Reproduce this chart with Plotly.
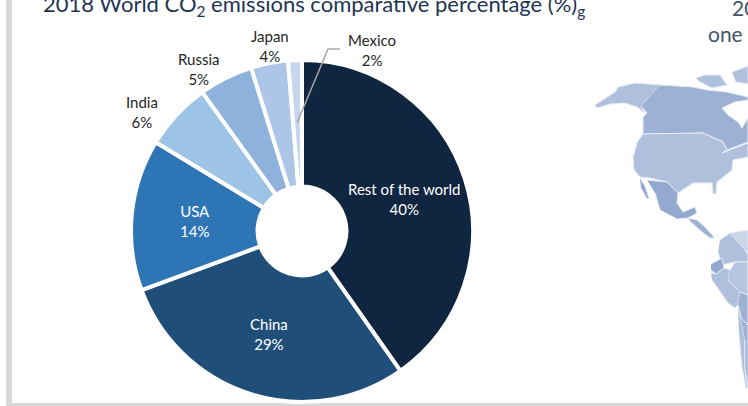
import plotly.graph_objects as go

labels = ["Rest of the world", "China", "USA", "India", "Russia", "Japan", "Mexico"]
shown_percent = [40, 29, 14, 6, 5, 4, 2]
values = [40.2, 29.1, 14.3, 6.4, 5.1, 3.5, 1.3]
colors = ["#10253F", "#1F4E79", "#2E75B6", "#9DC3E6", "#8FB2DD", "#ADC6E7", "#C5D6EE"]
label_x = [404, 269, 195, 142, 199, 270, 372]
label_y = [199, 334, 221, 112, 69, 46, 50]
label_colors = ["#FFFFFF", "#FFFFFF", "#FFFFFF", "#262626", "#262626", "#262626", "#262626"]

title_left = "2018 World CO<sub>2</sub> emissions comparative percentage (%)<sub>g</sub>"
side_lines = ["20", "one"]

leader_x = [297, 328, 340]
leader_y = [123, 49, 49]

map_regions = {
    "Alaska": ("#AFC0DC", [595, 603, 615, 618, 635, 660, 641, 645, 637, 625, 610, 597],
               [105, 100, 92, 87, 83, 85, 106, 113, 107, 103, 104, 108]),
    "Canada": ("#9DB1D4", [660, 693, 707, 727, 748, 748, 735, 722, 728, 738, 742, 748, 748, 727, 723, 703, 643, 643, 647, 641],
               [85, 87, 90, 92, 97, 100, 102, 108, 115, 122, 128, 118, 142, 150, 142, 133, 134, 117, 113, 106]),
    "Arctic": ("#AFC0DC", [696, 705, 720, 727, 712, 700], [78, 75, 75, 85, 88, 82]),
    "Arctic2": ("#AFC0DC", [732, 748, 748, 736], [72, 66, 84, 82]),
    "USA": ("#AFC0DC", [643, 703, 723, 727, 722, 748, 748, 733, 732, 717, 716, 713, 712, 693, 678, 667, 650, 640, 634, 633, 637],
            [134, 133, 142, 150, 153, 143, 157, 160, 170, 182, 194, 194, 183, 183, 193, 182, 178, 177, 170, 157, 143]),
    "Mexico": ("#93A9CF", [647, 667, 678, 677, 683, 695, 697, 688, 677, 660, 655], [180, 182, 193, 203, 212, 207, 213, 218, 219, 210, 193]),
    "Baja": ("#93A9CF", [640, 645, 649, 647, 641], [178, 186, 198, 199, 188]),
    "CentralAm": ("#9DB1D4", [688, 697, 705, 715, 710, 702, 692], [218, 220, 227, 238, 238, 232, 223]),
    "Colombia": ("#AFC0DC", [720, 730, 745, 748, 748, 735, 722, 718], [240, 233, 250, 250, 262, 262, 265, 252]),
    "Venezuela": ("#CAD5E8", [730, 748, 748, 745], [233, 230, 255, 250]),
    "Ecuador": ("#93A9CF", [711, 722, 724, 716, 711], [264, 258, 268, 274, 270]),
    "Peru": ("#AFC0DC", [711, 716, 724, 730, 728, 740, 738, 735, 728, 712], [273, 274, 268, 270, 280, 292, 305, 308, 303, 280]),
    "Brazil": ("#B5C5DF", [730, 735, 748, 748, 740, 728], [270, 262, 262, 295, 292, 280]),
    "Bolivia": ("#9DB1D4", [740, 748, 748, 741, 738], [292, 295, 325, 318, 305]),
    "Chile": ("#AFC0DC", [738, 741, 745, 745, 748, 746, 742, 739], [305, 318, 340, 370, 388, 388, 367, 335]),
    "Argentina": ("#9DB1D4", [741, 748, 748, 745, 745], [318, 325, 388, 370, 340]),
}

fig = go.Figure()

for region_name, (region_color, region_x, region_y) in map_regions.items():
    fig.add_trace(go.Scatter(
        x=region_x, y=region_y, mode="lines", fill="toself", fillcolor=region_color,
        line=dict(color="#E6ECF5", width=1), hoverinfo="skip", showlegend=False, name=region_name,
    ))

fig.add_trace(go.Pie(
    labels=labels, values=values, sort=False, direction="clockwise", rotation=0, hole=0.26,
    marker=dict(colors=colors, line=dict(color="#FFFFFF", width=4)),
    textinfo="none", showlegend=False,
    domain=dict(x=[131 / 748, 473 / 748], y=[1 - 402 / 406, 1 - 60 / 406]),
))

font_family = "Lato, Carlito, sans-serif"
annotations = [
    dict(x=lx, y=ly, text=f"{name}<br>{val}%", showarrow=False, xref="x", yref="y",
         font=dict(family=font_family, size=15, color=col), align="center", xanchor="center", yanchor="middle")
    for name, val, lx, ly, col in zip(labels, shown_percent, label_x, label_y, label_colors)
]
annotations.append(dict(x=41, y=22, text=title_left, showarrow=False, xref="x", yref="y", xanchor="left", yanchor="bottom",
                        font=dict(family=font_family, size=22, color="#1F3552")))
annotations.append(dict(x=730, y=22, text=side_lines[0], showarrow=False, xref="x", yref="y", xanchor="left", yanchor="bottom",
                        font=dict(family=font_family, size=21, color="#44546A")))
annotations.append(dict(x=706, y=48, text=side_lines[1], showarrow=False, xref="x", yref="y", xanchor="left", yanchor="bottom",
                        font=dict(family=font_family, size=21, color="#44546A")))

leader_path = "M " + " L ".join(f"{px} {py}" for px, py in zip(leader_x, leader_y))

fig.update_layout(
    width=748, height=406, margin=dict(l=0, r=0, t=0, b=0),
    paper_bgcolor="#FFFFFF", plot_bgcolor="#FFFFFF",
    xaxis=dict(range=[0, 748], visible=False, fixedrange=True),
    yaxis=dict(range=[406, 0], visible=False, fixedrange=True),
    annotations=annotations,
    shapes=[
        dict(type="rect", xref="x", yref="y", x0=6, x1=12, y0=0, y1=406, fillcolor="#D9D9D9", line_width=0, layer="below"),
        dict(type="rect", xref="x", yref="y", x0=6, x1=748, y0=403, y1=406, fillcolor="#D9D9D9", line_width=0, layer="below"),
        dict(type="path", xref="x", yref="y", path=leader_path, line=dict(color="#A6A6A6", width=1.5), layer="above"),
    ],
)
fig.write_html("out.html", config={"displayModeBar": False},
               post_script="document.body.style.margin='0';document.body.style.overflow='hidden';")
